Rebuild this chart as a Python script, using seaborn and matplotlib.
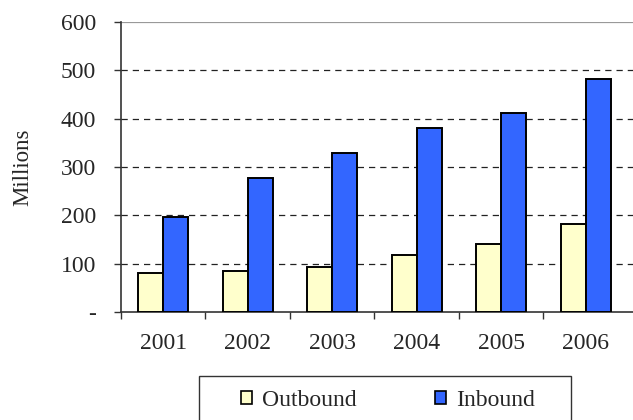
import numpy as np
import pandas as pd
import matplotlib.pyplot as plt
import seaborn as sns
from matplotlib.patches import Patch, Rectangle

years = ['2001', '2002', '2003', '2004', '2005', '2006']
outbound = [80, 84, 94, 117, 141, 183]
inbound = [197, 277, 328, 380, 412, 482]
series = ['Outbound', 'Inbound']
colors = ['#FFFFCC', '#3366FF']

df = pd.DataFrame({'year': years * 2,
                   'value': outbound + inbound,
                   'series': ['Outbound'] * len(years) + ['Inbound'] * len(years)})

sns.set_style('white')
plt.rcParams['font.family'] = ['Liberation Serif', 'DejaVu Serif']

fig = plt.figure(figsize=(6.33, 4.2), dpi=100)
ax = fig.add_axes([121 / 633, 1 - 312 / 420, 1 - 121 / 633, 290 / 420])

sns.barplot(data=df, x='year', y='value', hue='series', hue_order=series,
            palette=colors, width=0.59, edgecolor='black', linewidth=1.4,
            saturation=1, ax=ax, legend=False, zorder=3)

ax.set_ylim(0, 600)
ax.set_xlim(-0.5, 5.56)
ax.set_yticks([0, 100, 200, 300, 400, 500, 600])
ax.set_yticklabels(['-', '100', '200', '300', '400', '500', '600'])
for y in [100, 200, 300, 400, 500]:
    ax.axhline(y, color='#222222', lw=0.9, ls=(0, (5, 4)), zorder=1)
ax.axhline(600, color='#999999', lw=1.6, zorder=1)

# ticks between categories
ax.set_xticks(np.arange(len(years)))
ax.set_xticks(np.arange(len(years)) - 0.5, minor=True)
ax.tick_params(axis='x', which='major', length=0, pad=15, labelsize=17)
ax.tick_params(axis='x', which='minor', length=5, width=1, color='#333333', direction='out')
ax.tick_params(axis='y', length=5, width=1, color='#333333', direction='out', pad=13, labelsize=17)
ax.tick_params(bottom=True, left=True, which='both')

for s in ['top', 'right']:
    ax.spines[s].set_visible(False)
for s in ['left', 'bottom']:
    ax.spines[s].set_color('#333333')
    ax.spines[s].set_linewidth(1.2)

ax.set_xlabel('')
ax.set_ylabel('Millions', fontsize=16.5, labelpad=20)

# legend box (bottom is cut off by the figure edge)
fig.patches.append(Rectangle((199 / 633, -0.05), 372 / 633, 0.05 + 44 / 420,
                             transform=fig.transFigure, facecolor='white',
                             edgecolor='#333333', linewidth=1.0))
handles = [Patch(facecolor=c, edgecolor='black', linewidth=1.2) for c in colors]
leg = fig.legend(handles, series, loc='center', bbox_to_anchor=(388 / 633, 1 - 400 / 420),
                 ncol=2, frameon=False, fontsize=17, handlelength=0.47,
                 handleheight=0.47, handletextpad=0.45, columnspacing=3.3,
                 borderpad=0, borderaxespad=0)

fig.savefig('out.png', dpi=100)
